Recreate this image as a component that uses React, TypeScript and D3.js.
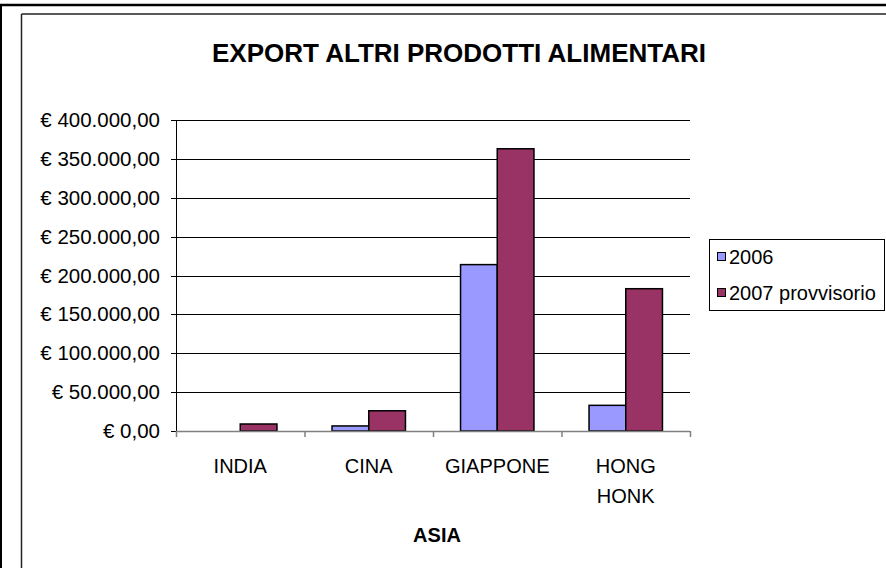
import React from "react";
import * as d3 from "d3";

const title = "EXPORT ALTRI PRODOTTI ALIMENTARI";
const xTitle = "ASIA";
const categories = ["INDIA", "CINA", "GIAPPONE", "HONG HONK"];
const series = ["2006", "2007 provvisorio"];
const values2006 = [0, 6500, 214000, 33000];
const values2007 = [9000, 26000, 363000, 183000];
const yTicks = [0, 50000, 100000, 150000, 200000, 250000, 300000, 350000, 400000];
const colors = ["#9999FF", "#993366"];

const W = 886;
const H = 568;
const FONT = "'Liberation Sans', Arial, sans-serif";

const fmt = (v: number) => {
  const s = d3.format(",.2f")(v); // 400,000.00
  return "€ " + s.replace(/,/g, "#").replace(/\./g, ",").replace(/#/g, ".");
};

export default function App() {
  const left = 176;
  const right = 690;
  const top = 120;
  const bottom = 431;

  const x0 = d3.scaleBand<string>().domain(categories).range([left, right]).padding(0);
  const step = x0.bandwidth();
  const bw = step / 3.5;
  const x1 = d3.scaleBand<string>().domain(series).range([0.75 * bw, 2.75 * bw]).padding(0);
  const y = d3.scaleLinear().domain([0, 400000]).range([bottom, top]);

  const data = [values2006, values2007];

  return (
    <svg
      width={W}
      height={H}
      style={{ position: "absolute", left: 0, top: 0, background: "#fff" }}
      fontFamily={FONT}
    >
      <rect x={0} y={0} width={W} height={H} fill="#fff" />
      {/* outer frame */}
      <line x1={0} x2={W} y1={5} y2={5} stroke="#000" strokeWidth={2.5} />
      <line x1={1} x2={1} y1={4} y2={H} stroke="#000" strokeWidth={2} />
      {/* inner chart area border */}
      <line x1={21.5} x2={W} y1={14} y2={14} stroke="#222" strokeWidth={1.5} />
      <line x1={21.5} x2={21.5} y1={14} y2={H} stroke="#222" strokeWidth={1.5} />

      {/* title */}
      <text x={459} y={62} textAnchor="middle" fontSize={26} fontWeight="bold" fill="#000">
        {title}
      </text>

      {/* gridlines */}
      {yTicks.slice(1).map((t) => (
        <line key={"g" + t} x1={left} x2={right} y1={Math.round(y(t)) + 0.5} y2={Math.round(y(t)) + 0.5} stroke="#000" strokeWidth={1} />
      ))}

      {/* y tick marks and labels */}
      {yTicks.map((t) => (
        <g key={"t" + t}>
          <line x1={left - 5} x2={left} y1={Math.round(y(t)) + 0.5} y2={Math.round(y(t)) + 0.5} stroke="#000" />
          <text x={160} y={y(t) + 7} textAnchor="end" fontSize={20.5} fill="#000">
            {fmt(t)}
          </text>
        </g>
      ))}

      {/* bars */}
      {categories.map((c, i) => (
        <g key={c}>
          {series.map((s, j) => {
            const v = data[j][i];
            if (v <= 0) return null;
            const bx = (x0(c) as number) + (x1(s) as number);
            return (
              <rect
                key={s}
                x={bx}
                y={y(v)}
                width={x1.bandwidth()}
                height={bottom - y(v)}
                fill={colors[j]}
                stroke="#000"
                strokeWidth={1.5}
              />
            );
          })}
        </g>
      ))}

      {/* y axis */}
      <line x1={left + 0.5} x2={left + 0.5} y1={top} y2={bottom} stroke="#000" strokeWidth={1} />
      {/* x axis */}
      <line x1={left} x2={right} y1={bottom + 0.5} y2={bottom + 0.5} stroke="#808080" strokeWidth={1.5} />
      {[...categories.map((c) => x0(c) as number), right].map((px, i) => (
        <line key={"xt" + i} x1={px + 0.5} x2={px + 0.5} y1={bottom} y2={bottom + 6} stroke="#808080" strokeWidth={1.5} />
      ))}

      {/* category labels */}
      {categories.map((c) => {
        const cx = (x0(c) as number) + step / 2;
        const parts = c === "HONG HONK" ? ["HONG", "HONK"] : [c];
        return (
          <text key={"l" + c} x={cx} y={473} textAnchor="middle" fontSize={20} fill="#000">
            {parts.map((p, k) => (
              <tspan key={k} x={cx} dy={k === 0 ? 0 : 30}>
                {p}
              </tspan>
            ))}
          </text>
        );
      })}

      {/* x axis title */}
      <text x={437} y={542} textAnchor="middle" fontSize={20} fontWeight="bold" fill="#000">
        {xTitle}
      </text>

      {/* legend */}
      <rect x={709.5} y={239.5} width={175} height={71} fill="#fff" stroke="#000" strokeWidth={1} />
      {series.map((s, j) => (
        <g key={"lg" + s}>
          <rect x={717.5} y={(j === 0 ? 257 : 293) - 4.5} width={8} height={8} fill={colors[j]} stroke="#000" strokeWidth={1} />
          <text x={729} y={(j === 0 ? 257 : 293) + 7} fontSize={20} fill="#000">
            {s}
          </text>
        </g>
      ))}
    </svg>
  );
}
